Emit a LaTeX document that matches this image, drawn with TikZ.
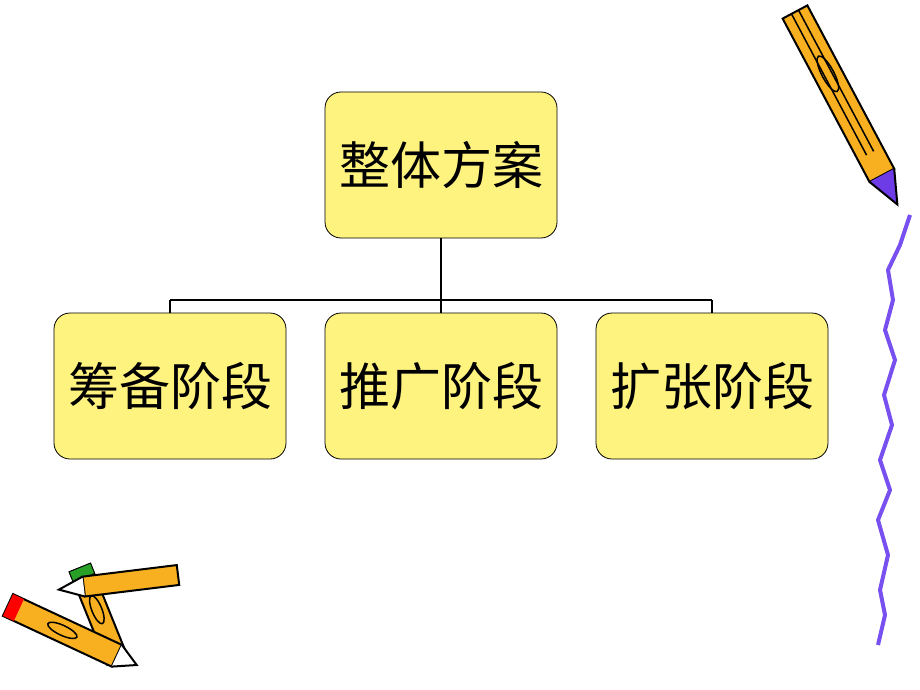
\documentclass[tikz,border=0pt]{standalone}
\usepackage{fontspec}
\newfontfamily\cjk{Noto Sans CJK SC}
\definecolor{boxy}{RGB}{255,243,128}
\definecolor{pur}{RGB}{110,60,230}
\definecolor{wav}{RGB}{120,80,240}
\definecolor{penc}{RGB}{248,176,32}
\definecolor{gr}{RGB}{40,160,40}
\begin{document}
\begin{tikzpicture}[x=1pt,y=-1pt,
  box/.style={draw=black,line width=0.8pt,fill=boxy,rounded corners=16pt,minimum width=232pt,minimum height=146pt,font=\cjk\fontsize{51}{55}\selectfont,inner sep=0pt},
  conn/.style={line width=2.4pt},
  pencil/.style={draw=black,line width=2pt,fill=penc}]
\useasboundingbox (0,0) rectangle (920,690);
\node[box] (top) at (441,165) {整体方案};
\node[box] (a) at (170,386) {筹备阶段};
\node[box] (b) at (441,386) {推广阶段};
\node[box] (c) at (712,386) {扩张阶段};
\coordinate (j) at (441,300);
\coordinate (ja) at (170,300);
\coordinate (jc) at (712,300);
\draw[conn] (top.south) -- (j) -- (b.north);
\draw[line width=1.6pt] (ja) -- (jc);
\draw[line width=1.6pt] (ja) -- (a.north);
\draw[line width=1.6pt] (jc) -- (c.north);
% top-right pencil
\begin{scope}[shift={(795,12)},rotate=-62]
\draw[pencil] (0,-14) -- (185,-14) -- (185,14) -- (0,14) -- cycle;
\fill[pur] (185,-14) -- (218,0) -- (185,14) -- cycle;
\draw[line width=2pt] (185,-14) -- (218,0) -- (185,14);
\draw[line width=1.5pt] (0,-4) -- (160,-4) (0,4) -- (160,4);
\draw[line width=1.5pt] (70,0) ellipse (20 and 6);
\end{scope}
% wavy line
\draw[line width=4pt,wav,line join=round]
 (910,215) -- (900,245) -- (888,270) -- (893,300) -- (885,330) -- (895,360) -- (884,395)
 -- (892,425) -- (880,460) -- (890,490) -- (878,520) -- (888,555) -- (880,590) -- (885,615) -- (878,645);
% bottom-left pencils
\begin{scope}[shift={(80,568)},rotate=-68]
\draw[pencil] (0,-11) -- (100,-11) -- (100,11) -- (0,11) -- cycle;
\fill[gr] (0,-11) rectangle (10,11);
\draw[pencil] (0,-11) rectangle (10,11);
\fill[gr] (0,-11) rectangle (10,11);
\draw[line width=1.5pt] (45,0) ellipse (15 and 5);
\end{scope}
\begin{scope}[shift={(178,575)},rotate=-173]
\draw[pencil] (0,-10) -- (95,-10) -- (95,10) -- (0,10) -- cycle;
\draw[line width=2pt,fill=white] (95,-10) -- (120,0) -- (95,10);
\end{scope}
\begin{scope}[shift={(8,605)},rotate=-25]
\draw[pencil] (0,-12) -- (120,-12) -- (120,12) -- (0,12) -- cycle;
\fill[red] (0,-12) rectangle (12,12);
\draw[line width=2pt,fill=white] (120,-12) -- (142,0) -- (120,12);
\draw[line width=1.5pt] (60,0) ellipse (16 and 5);
\end{scope}
\end{tikzpicture}
\end{document}
